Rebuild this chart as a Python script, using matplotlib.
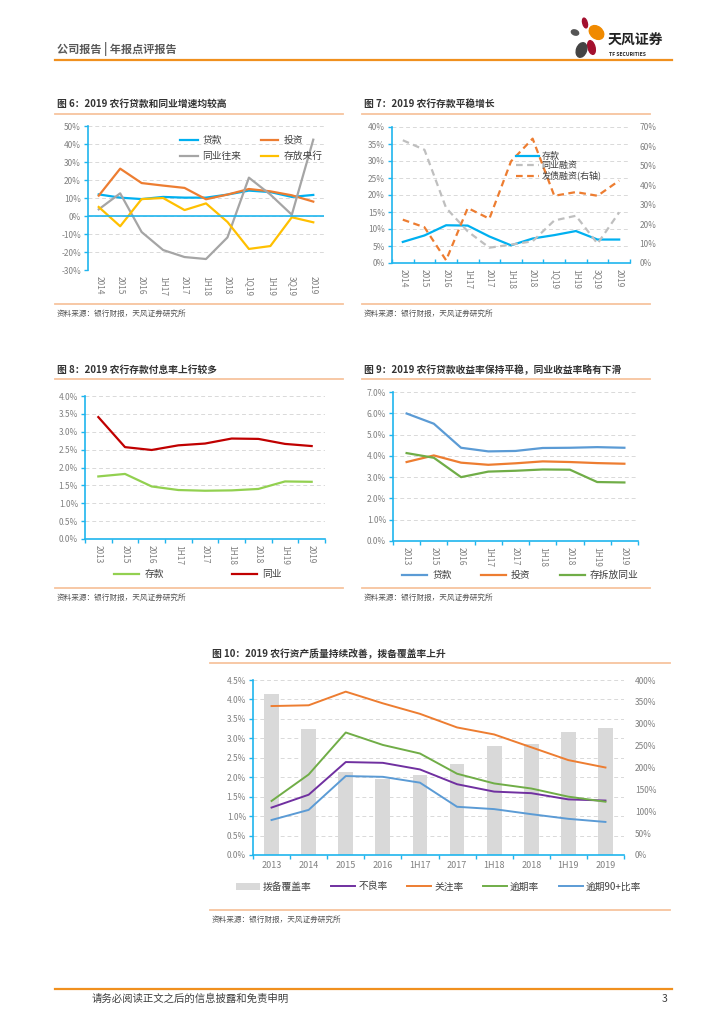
import numpy as np
import matplotlib.pyplot as plt
from matplotlib.patches import Ellipse
from matplotlib.lines import Line2D
from matplotlib.ticker import FuncFormatter, MultipleLocator

plt.rcParams['font.family'] = ['Noto Sans CJK SC', 'DejaVu Sans']
plt.rcParams['axes.unicode_minus'] = False

# ---- 数据 ----
# 图6
cats6 = ['2014', '2015', '2016', '1H17', '2017', '1H18', '2018', '1Q19', '1H19', '3Q19', '2019']
loan6 = [12.0, 10.2, 9.4, 10.6, 10.2, 10.2, 11.9, 14.1, 13.3, 10.6, 11.7]
invest6 = [11.3, 26.3, 18.3, 16.9, 15.6, 9.3, 11.9, 15.0, 13.7, 11.5, 8.0]
interbank6 = [3.7, 12.6, -8.9, -18.9, -22.8, -23.9, -11.9, 21.3, 11.9, 0.7, 42.4]
cb6 = [5.0, -5.7, 9.4, 10.0, 3.3, 7.0, -3.3, -18.3, -16.7, -0.7, -3.5]

# 图7
cats7 = cats6
deposit7 = [6.2, 8.1, 11.1, 11.0, 7.8, 5.2, 7.2, 8.2, 9.4, 6.9, 6.9]
ibfund7 = [36.1, 33.3, 16.2, 9.3, 4.5, 5.4, 6.4, 12.5, 13.9, 5.7, 14.9]
bond7 = [22.3, 18.4, 1.4, 28.3, 22.8, 52.3, 64.0, 34.6, 36.5, 34.6, 42.4]

# 图8
cats8 = ['2013', '2015', '2016', '1H17', '2017', '1H18', '2018', '1H19', '2019']
dep_cost8 = [1.75, 1.82, 1.47, 1.37, 1.35, 1.36, 1.40, 1.61, 1.60]
ib_cost8 = [3.41, 2.57, 2.49, 2.62, 2.67, 2.81, 2.80, 2.66, 2.60]

# 图9
cats9 = cats8
loan_y9 = [5.99, 5.51, 4.38, 4.21, 4.23, 4.37, 4.38, 4.41, 4.38]
inv_y9 = [3.71, 4.02, 3.68, 3.58, 3.65, 3.74, 3.71, 3.66, 3.63]
ib_y9 = [4.13, 3.91, 3.00, 3.26, 3.30, 3.36, 3.35, 2.77, 2.75]

# 图10
cats10 = ['2013', '2014', '2015', '2016', '1H17', '2017', '1H18', '2018', '1H19', '2019']
coverage10 = [368, 287, 190, 174, 182, 208, 249, 254, 281, 290]
npl10 = [1.22, 1.55, 2.39, 2.37, 2.20, 1.82, 1.63, 1.59, 1.43, 1.40]
special10 = [3.83, 3.85, 4.20, 3.90, 3.63, 3.28, 3.10, 2.77, 2.44, 2.25]
overdue10 = [1.39, 2.07, 3.15, 2.83, 2.61, 2.09, 1.84, 1.71, 1.50, 1.37]
overdue90_10 = [0.90, 1.16, 2.03, 2.01, 1.86, 1.24, 1.18, 1.05, 0.93, 0.85]

W, H = 724, 1024
AXBLUE = '#1FB5EE'
GRID = '#D9D9D9'
TICK = '#808080'
ORANGE = '#F0901E'
LORANGE = '#F7C49E'
SRC = '资料来源：银行财报，天风证券研究所'

fig = plt.figure(figsize=(W / 100, H / 100), dpi=100)


def px_axes(l, t, r, b):
    return fig.add_axes([l / W, 1 - b / H, (r - l) / W, (b - t) / H])


def fig_text(x, y, s, **kw):
    fig.text(x / W, 1 - y / H, s, **kw)


def fig_hline(x0, x1, y, color, lw):
    fig.add_artist(Line2D([x0 / W, x1 / W], [1 - y / H, 1 - y / H],
                          color=color, lw=lw, transform=fig.transFigure))


def panel_frame(x0, x1, title_y, line_y, bottom_y, title):
    fig_text(x0 + 2, title_y, title, fontsize=7, fontweight='bold', color='#333333', va='center')
    fig_hline(x0, x1, line_y, LORANGE, 1.3)
    fig_hline(x0, x1, bottom_y, LORANGE, 1.3)
    fig_text(x0 + 2, bottom_y + 10, SRC, fontsize=5.5, color='#555555', va='center')


def style_axes(ax, n, fmt, step, rot=-90, xsize=6):
    for s in ['top', 'right']:
        ax.spines[s].set_visible(False)
    ax.spines['left'].set_color(AXBLUE)
    ax.spines['bottom'].set_color(AXBLUE)
    ax.spines['left'].set_linewidth(1.2)
    ax.spines['bottom'].set_linewidth(1.2)
    ax.grid(axis='y', color=GRID, ls=(0, (4, 3)), lw=0.7)
    ax.set_axisbelow(True)
    ax.yaxis.set_major_locator(MultipleLocator(step))
    ax.yaxis.set_major_formatter(FuncFormatter(fmt))
    ax.tick_params(axis='y', colors=AXBLUE, labelcolor=TICK, labelsize=6, length=3, width=1, pad=2)
    ax.set_xlim(-0.5, n - 0.5)
    ax.set_xticks(np.arange(n))
    ax.tick_params(axis='x', which='major', labelcolor=TICK, labelsize=xsize, length=0,
                   labelrotation=rot, pad=4)
    ax.set_xticks(np.arange(-0.5, n), minor=True)
    ax.tick_params(axis='x', which='minor', colors=AXBLUE, length=3, width=1)


# ---- 页眉 ----
fig_text(57, 49, '公司报告 | 年报点评报告', fontsize=8, fontweight='bold', color='#595959', va='center')
fig_hline(55, 672, 60, ORANGE, 1.6)
fig_text(608, 41, '天风证券', fontsize=10, fontweight='bold', color='#222222', va='center')
fig_text(609, 54, 'TF SECURITIES', fontsize=3.6, fontweight='bold', color='#222222', va='center')
logo = fig.add_axes([565 / W, 1 - 60 / H, 40 / W, 44 / H])
logo.set_xlim(565, 605)
logo.set_ylim(60, 16)
logo.axis('off')
logo.add_patch(Ellipse((585, 23), 4.5, 10, angle=-15, color='#A3102E'))
logo.add_patch(Ellipse((575, 32.5), 7.5, 5, angle=20, color='#555555'))
logo.add_patch(Ellipse((596.5, 32.5), 12, 16, angle=-50, color='#F08A00'))
logo.add_patch(Ellipse((591.5, 47.5), 7, 14, angle=-15, color='#A3102E'))
logo.add_patch(Ellipse((581.5, 50), 10, 15, angle=20, color='#444444'))

# ---- 图6 ----
panel_frame(55, 343, 104, 114, 304, '图 6：2019 农行贷款和同业增速均较高')
ax6 = px_axes(88, 126, 324, 270)
x6 = np.arange(len(cats6))
a1, = ax6.plot(x6, loan6, color='#00B0F0', lw=1.6, label='贷款')
a2, = ax6.plot(x6, invest6, color='#ED7D31', lw=1.6, label='投资')
a3, = ax6.plot(x6, interbank6, color='#A5A5A5', lw=1.6, label='同业往来')
a4, = ax6.plot(x6, cb6, color='#FFC000', lw=1.6, label='存放央行')
ax6.set_ylim(-30, 50)
style_axes(ax6, len(cats6), lambda v, p: f'{v:.0f}%', 10)
ax6.set_xticklabels(cats6)
ax6.spines['bottom'].set_visible(False)
ax6.tick_params(axis='x', which='minor', length=0)
ax6.axhline(0, color=AXBLUE, lw=1.2)
ax6.legend(handles=[a1, a3, a2, a4], loc='upper left', bbox_to_anchor=(0.37, 0.97), ncol=2,
           frameon=False, fontsize=7, handlelength=1.8, handletextpad=0.5, columnspacing=2.0,
           borderpad=0, labelspacing=0.6, labelcolor='#404040')

# ---- 图7 ----
panel_frame(362, 650, 104, 114, 304, '图 7：2019 农行存款平稳增长')
ax7 = px_axes(392, 127, 630, 263)
x7 = np.arange(len(cats7))
l1, = ax7.plot(x7, deposit7, color='#00B0F0', lw=1.6, label='存款')
l2, = ax7.plot(x7, ibfund7, color='#BFBFBF', lw=1.6, ls=(0, (3, 2)), label='同业融资')
ax7.set_ylim(0, 40)
style_axes(ax7, len(cats7), lambda v, p: f'{v:.0f}%', 5)
ax7.set_xticklabels(cats7)
ax7.tick_params(axis='x', which='minor', direction='in')
ax72 = ax7.twinx()
l3, = ax72.plot(x7, bond7, color='#ED7D31', lw=1.6, ls=(0, (3, 2)), label='发债融资(右轴)')
ax72.set_ylim(0, 70)
ax72.yaxis.set_major_locator(MultipleLocator(10))
ax72.yaxis.set_major_formatter(FuncFormatter(lambda v, p: f'{v:.0f}%'))
ax72.tick_params(axis='y', labelcolor=TICK, labelsize=6, length=0, pad=7)
for s in ax72.spines.values():
    s.set_visible(False)
ax72.legend(handles=[l1, l2, l3], loc='upper left', bbox_to_anchor=(0.5, 0.85), frameon=False,
            fontsize=6.5, handlelength=2.6, handletextpad=0.3, borderpad=0, labelspacing=0.05,
            labelcolor='#404040')

# ---- 图8 ----
panel_frame(55, 343, 370, 379, 588, '图 8：2019 农行存款付息率上行较多')
ax8 = px_axes(85, 396, 325, 539)
x8 = np.arange(len(cats8))
ax8.plot(x8, dep_cost8, color='#92D050', lw=1.6, label='存款')
ax8.plot(x8, ib_cost8, color='#C00000', lw=1.6, label='同业')
ax8.set_ylim(0, 4.0)
style_axes(ax8, len(cats8), lambda v, p: f'{v:.1f}%', 0.5)
ax8.set_xticklabels(cats8)
ax8.legend(loc='center', bbox_to_anchor=(0.47, -0.245), ncol=2, frameon=False, fontsize=7,
           handlelength=2.6, handletextpad=0.5, columnspacing=7.0, borderpad=0,
           labelcolor='#404040')

# ---- 图9 ----
panel_frame(362, 650, 370, 379, 588, '图 9：2019 农行贷款收益率保持平稳，同业收益率略有下滑')
ax9 = px_axes(393, 392, 638, 541)
x9 = np.arange(len(cats9))
ax9.plot(x9, loan_y9, color='#5B9BD5', lw=1.6, label='贷款')
ax9.plot(x9, inv_y9, color='#ED7D31', lw=1.6, label='投资')
ax9.plot(x9, ib_y9, color='#70AD47', lw=1.6, label='存拆放同业')
ax9.set_ylim(0, 7.0)
style_axes(ax9, len(cats9), lambda v, p: f'{v:.1f}%', 1.0)
ax9.set_xticklabels(cats9)
ax9.legend(loc='center', bbox_to_anchor=(0.52, -0.23), ncol=3, frameon=False, fontsize=7,
           handlelength=2.6, handletextpad=0.5, columnspacing=3.0, borderpad=0,
           labelcolor='#404040')

# ---- 图10 ----
panel_frame(210, 670, 654, 663, 910, '图 10：2019 农行资产质量持续改善，拨备覆盖率上升')
ax10 = px_axes(253, 680, 624, 855)
x10 = np.arange(len(cats10))
ax102 = ax10.twinx()
bars = ax102.bar(x10, coverage10, width=0.4, color='#D9D9D9', label='拨备覆盖率')
ax102.set_ylim(0, 400)
ax102.yaxis.set_major_locator(MultipleLocator(50))
ax102.yaxis.set_major_formatter(FuncFormatter(lambda v, p: f'{v:.0f}%'))
ax102.tick_params(axis='y', labelcolor=TICK, labelsize=6, length=0, pad=8)
for s in ax102.spines.values():
    s.set_visible(False)
ax10.set_zorder(ax102.get_zorder() + 1)
ax10.patch.set_visible(False)
m1, = ax10.plot(x10, npl10, color='#7030A0', lw=1.4, label='不良率')
m2, = ax10.plot(x10, special10, color='#ED7D31', lw=1.4, label='关注率')
m3, = ax10.plot(x10, overdue10, color='#70AD47', lw=1.4, label='逾期率')
m4, = ax10.plot(x10, overdue90_10, color='#5B9BD5', lw=1.4, label='逾期90+比率')
ax10.set_ylim(0, 4.5)
style_axes(ax10, len(cats10), lambda v, p: f'{v:.1f}%', 0.5, rot=0, xsize=6.5)
ax10.set_xticklabels(cats10)
ax10.legend(handles=[bars, m1, m2, m3, m4], loc='center', bbox_to_anchor=(0.5, -0.18), ncol=5,
            frameon=False, fontsize=7, handlelength=2.5, handletextpad=0.3, columnspacing=2.0,
            borderpad=0, labelcolor='#404040')

# ---- 页脚 ----
fig_hline(55, 672, 989, ORANGE, 1.6)
fig_text(92, 999, '请务必阅读正文之后的信息披露和免责申明', fontsize=7.5, color='#404040', va='center')
fig_text(667, 999, '3', fontsize=7.5, color='#404040', va='center', ha='right')

fig.savefig('out.png', dpi=100)
